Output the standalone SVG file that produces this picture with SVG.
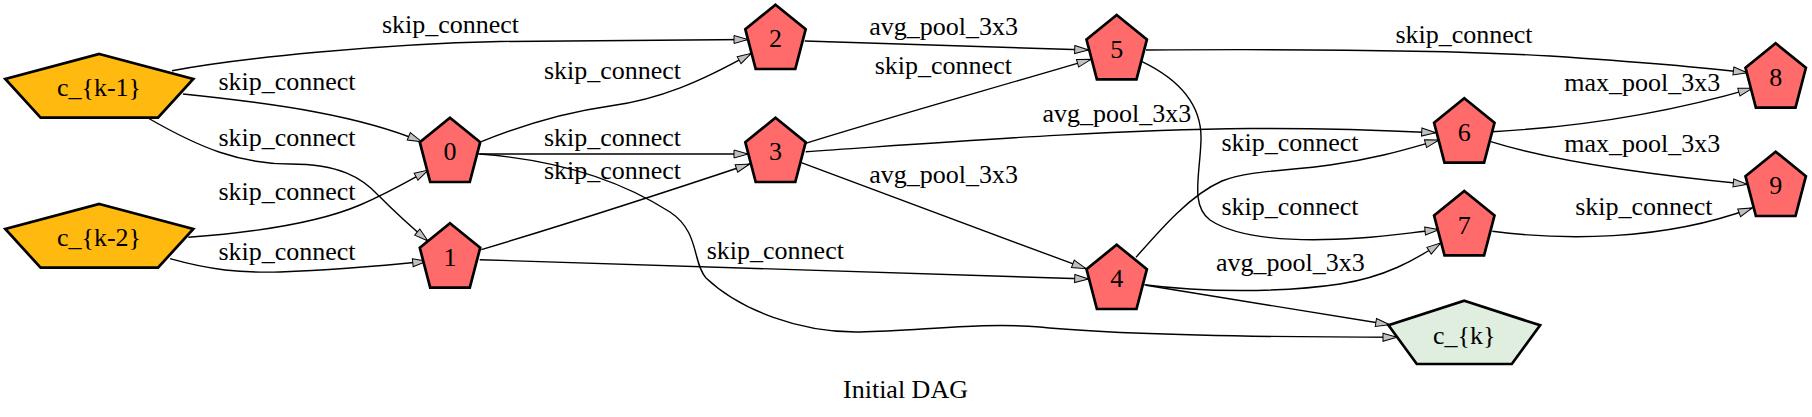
<svg xmlns="http://www.w3.org/2000/svg" width="1812" height="417" viewBox="0 0 1812 417">
<style>
text{font-family:"Liberation Serif","Times New Roman",serif;font-size:26px;fill:#000;text-anchor:middle}
.in{fill:#FFB90F;stroke:#000;stroke-width:2.7;stroke-linejoin:miter}
.op{fill:#FF6A6A;stroke:#000;stroke-width:2.7}
.out{fill:#E0EEE0;stroke:#000;stroke-width:2.7}
.e{fill:none;stroke:#000;stroke-width:1.4;marker-end:url(#ah)}
</style>
<defs>
<marker id="ah" markerUnits="userSpaceOnUse" markerWidth="16" markerHeight="10" refX="14.5" refY="5" orient="auto" overflow="visible">
<path d="M0.5,1 L14.5,5 L0.5,9 Z" fill="#c0c0c0" stroke="#000" stroke-width="1"/>
</marker>
<polygon id="pent" points="0,0 30.2,24.5 19.8,64.3 -19.8,64.3 -30.2,24.5"/>
<polygon id="wide" points="0,0 94,25 58.7,63.7 -58.7,63.7 -94,25"/>
</defs>
<rect width="1812" height="417" fill="#fff"/>
<g id="edges">
<path class="e" d="M172,70.7 C240,58 380,44 500,41.5 C600,40 680,39.5 748,39.5"/>
<path class="e" d="M183,94 C280,104 360,116 421.7,141.7"/>
<path class="e" d="M148,118 C200,148 240,164 290,164 C340,164 362,178 378,195 C395,212 410,226 428,241"/>
<path class="e" d="M188.3,237.3 C260,232 320,222 360,205 C390,192 410,180 428.3,170"/>
<path class="e" d="M170,258.7 C210,270 240,273 280,272 C340,270 390,265 426.7,261.3"/>
<path class="e" d="M481.3,141.7 C520,126 560,113 610,106 C660,99 700,82 751.3,53.3"/>
<path class="e" d="M478,154 L748,154"/>
<path class="e" d="M481.3,249.7 C560,226 660,194 749.7,164"/>
<path class="e" d="M479.7,154 C560,160 620,180 670,212 C700,232 692,262 706,278 C740,310 800,333 860,332 C920,331 980,322 1040,327 C1100,333 1200,337 1397,337.3"/>
<path class="e" d="M804.7,41 L1088.7,50"/>
<path class="e" d="M805.7,143.3 C880,120 980,92 1091,59.3"/>
<path class="e" d="M805.7,151.7 C950,142 1100,130 1250,128.5 C1320,128 1380,130 1435.7,132.7"/>
<path class="e" d="M801.3,162.7 L1086,268.7"/>
<path class="e" d="M479.7,259.7 L1088.7,279"/>
<path class="e" d="M1136,257.3 C1160,230 1190,195 1222,181 C1250,170 1290,171 1330,165 C1380,158 1410,148 1439,140"/>
<path class="e" d="M1142,61.7 C1180,80 1202,105 1201,140 C1200,175 1190,205 1210,220 C1240,240 1300,242 1360,238 C1390,236 1415,232 1439,229.7"/>
<path class="e" d="M1144.3,284.7 C1200,292 1280,293 1340,284 C1385,277 1415,260 1440.7,243"/>
<path class="e" d="M1146,285.3 L1389.7,324.7"/>
<path class="e" d="M1146,50 C1300,49 1450,50 1550,56 C1640,62 1700,67 1747.3,72.7"/>
<path class="e" d="M1492.3,131.7 C1560,128 1650,118 1752.3,88.3"/>
<path class="e" d="M1490.7,141.7 C1540,157 1620,172 1747.3,184.3"/>
<path class="e" d="M1492.3,231.3 C1560,240 1660,242 1752.3,208"/>
<g id="edge-labels">
<text x="450.5" y="33.3">skip_connect</text>
<text x="287" y="90">skip_connect</text>
<text x="287" y="145.7">skip_connect</text>
<text x="287" y="200">skip_connect</text>
<text x="287" y="259.7">skip_connect</text>
<text x="612.5" y="79.3">skip_connect</text>
<text x="612.5" y="145.7">skip_connect</text>
<text x="612.5" y="179">skip_connect</text>
<text x="943.7" y="35">avg_pool_3x3</text>
<text x="943.3" y="74">skip_connect</text>
<text x="943.7" y="182.7">avg_pool_3x3</text>
<text x="1116.8" y="121.7">avg_pool_3x3</text>
<text x="1290" y="150.7">skip_connect</text>
<text x="1290" y="215">skip_connect</text>
<text x="1290.4" y="271.3">avg_pool_3x3</text>
<text x="775.3" y="258.7">skip_connect</text>
<text x="1464" y="43.3">skip_connect</text>
<text x="1642.3" y="90.7">max_pool_3x3</text>
<text x="1642.3" y="151.7">max_pool_3x3</text>
<text x="1643.8" y="215">skip_connect</text>
</g>
</g>
<g id="node-ck1"><use href="#wide" class="in" x="99.3" y="54"/><text x="99" y="96">c_{k-1}</text></g>
<g id="node-ck2"><use href="#wide" class="in" x="99.3" y="204"/><text x="99" y="246">c_{k-2}</text></g>
<g id="node-0"><use href="#pent" class="op" x="450" y="117.7"/><text x="450" y="160.3">0</text></g>
<g id="node-1"><use href="#pent" class="op" x="450" y="223.3"/><text x="450" y="266">1</text></g>
<g id="node-2"><use href="#pent" class="op" x="775.5" y="4.7"/><text x="775.5" y="47.3">2</text></g>
<g id="node-3"><use href="#pent" class="op" x="775.5" y="117.7"/><text x="775.5" y="160.3">3</text></g>
<g id="node-4"><use href="#pent" class="op" x="1116.7" y="244.7"/><text x="1116.7" y="287.3">4</text></g>
<g id="node-5"><use href="#pent" class="op" x="1116.7" y="15"/><text x="1116.7" y="57.6">5</text></g>
<g id="node-6"><use href="#pent" class="op" x="1464.3" y="98.3"/><text x="1464.3" y="140.9">6</text></g>
<g id="node-7"><use href="#pent" class="op" x="1464.3" y="191"/><text x="1464.3" y="233.6">7</text></g>
<g id="node-8"><use href="#pent" class="op" x="1775.7" y="43.3"/><text x="1775.7" y="85.9">8</text></g>
<g id="node-9"><use href="#pent" class="op" x="1775.7" y="151.7"/><text x="1775.7" y="194.3">9</text></g>
<g id="node-ck"><polygon class="out" points="1464.3,300.7 1540.1,325.3 1511.8,364 1416.8,364 1388.5,325.3"/><text x="1464.3" y="344">c_{k}</text></g>
<text x="905.5" y="398">Initial DAG</text>
</svg>
